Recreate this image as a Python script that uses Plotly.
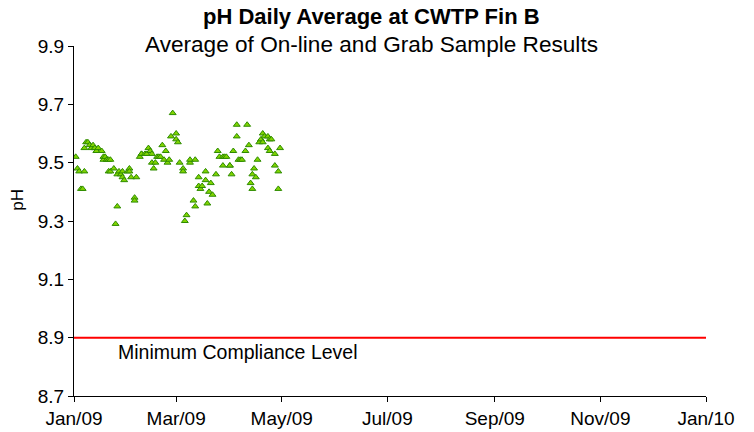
import plotly.graph_objects as go

# ---- data -------------------------------------------------------------
sample_dates = [
    "2009-01-02", "2009-01-03", "2009-01-04", "2009-01-05", "2009-01-06", "2009-01-07",
    "2009-01-07", "2009-01-08", "2009-01-09", "2009-01-10", "2009-01-11", "2009-01-12",
    "2009-01-13", "2009-01-13", "2009-01-14", "2009-01-14", "2009-01-15", "2009-01-17",
    "2009-01-18", "2009-01-18", "2009-01-19", "2009-01-20", "2009-01-20", "2009-01-21",
    "2009-01-21", "2009-01-22", "2009-01-22", "2009-01-24", "2009-01-25", "2009-01-26",
    "2009-01-26", "2009-01-27", "2009-01-28", "2009-01-29", "2009-01-29", "2009-01-30",
    "2009-02-01", "2009-02-02", "2009-02-02", "2009-02-03", "2009-02-05", "2009-02-05",
    "2009-02-06", "2009-02-08", "2009-02-09", "2009-02-09", "2009-02-11", "2009-02-12",
    "2009-02-13", "2009-02-14", "2009-02-15", "2009-02-15", "2009-02-16", "2009-02-17",
    "2009-02-18", "2009-02-19", "2009-02-20", "2009-02-21", "2009-02-22", "2009-02-23",
    "2009-02-24", "2009-02-25", "2009-02-26", "2009-02-27", "2009-03-01", "2009-03-01",
    "2009-03-02", "2009-03-03", "2009-03-05", "2009-03-05", "2009-03-06", "2009-03-07",
    "2009-03-09", "2009-03-09", "2009-03-11", "2009-03-12", "2009-03-12", "2009-03-14",
    "2009-03-14", "2009-03-15", "2009-03-16", "2009-03-18", "2009-03-18", "2009-03-19",
    "2009-03-20", "2009-03-21", "2009-03-22", "2009-03-24", "2009-03-25", "2009-03-26",
    "2009-03-28", "2009-03-28", "2009-03-29", "2009-03-30", "2009-04-01", "2009-04-01",
    "2009-04-02", "2009-04-03", "2009-04-05", "2009-04-05", "2009-04-06", "2009-04-07",
    "2009-04-08", "2009-04-10", "2009-04-11", "2009-04-12", "2009-04-13", "2009-04-14",
    "2009-04-14", "2009-04-15", "2009-04-16", "2009-04-17", "2009-04-18", "2009-04-19",
    "2009-04-20", "2009-04-20", "2009-04-21", "2009-04-23", "2009-04-23", "2009-04-24",
    "2009-04-24", "2009-04-25", "2009-04-27", "2009-04-27", "2009-04-29", "2009-04-29",
    "2009-04-30",
]
ph_values = [
    9.52, 9.48, 9.47, 9.41, 9.41, 9.47,
    9.55, 9.57, 9.57, 9.56, 9.55, 9.56,
    9.55, 9.55, 9.54, 9.54, 9.55, 9.54,
    9.51, 9.52, 9.52, 9.51, 9.51, 9.51,
    9.47, 9.47, 9.51, 9.48, 9.29, 9.35,
    9.46, 9.47, 9.46, 9.47, 9.45, 9.44,
    9.47, 9.48, 9.47, 9.45, 9.38, 9.37,
    9.45, 9.52, 9.53, 9.53, 9.53, 9.53,
    9.55, 9.54, 9.53, 9.50, 9.48, 9.50,
    9.52, 9.52, 9.52, 9.56, 9.51, 9.54,
    9.50, 9.51, 9.59, 9.67, 9.60, 9.58,
    9.57, 9.50, 9.48, 9.47, 9.30, 9.32,
    9.50, 9.51, 9.37, 9.35, 9.51, 9.45,
    9.42, 9.41, 9.42, 9.47, 9.44, 9.36,
    9.40, 9.43, 9.39, 9.46, 9.54, 9.52,
    9.52, 9.49, 9.52, 9.52, 9.49, 9.49,
    9.46, 9.54, 9.59, 9.63, 9.51, 9.51,
    9.51, 9.54, 9.63, 9.56, 9.43, 9.41,
    9.46, 9.48, 9.45, 9.51, 9.57, 9.58,
    9.57, 9.60, 9.59, 9.59, 9.55, 9.58,
    9.54, 9.58, 9.49, 9.53, 9.47, 9.41,
    9.55,
]

compliance_dates = ["2009-01-01", "2010-01-01"]
compliance_level = [8.9, 8.9]

x_tick_vals = ["2009-01-01", "2009-03-01", "2009-05-01", "2009-07-01",
               "2009-09-01", "2009-11-01", "2010-01-01"]
x_tick_text = ["Jan/09", "Mar/09", "May/09", "Jul/09", "Sep/09", "Nov/09", "Jan/10"]
y_tick_vals = [8.7, 8.9, 9.1, 9.3, 9.5, 9.7, 9.9]

FONT = "Liberation Sans, Arial, sans-serif"

fig = go.Figure()
fig.add_trace(go.Scatter(
    x=compliance_dates, y=compliance_level, mode="lines",
    line=dict(color="#ff0000", width=2), hoverinfo="skip", showlegend=False,
))
fig.add_trace(go.Scatter(
    x=sample_dates, y=ph_values, mode="markers",
    marker=dict(symbol="triangle-up", size=6, color="#80d400",
                line=dict(color="#2e8b00", width=1)),
    showlegend=False,
))

fig.update_layout(
    width=754, height=432,
    margin=dict(l=74, r=48, t=46, b=36),
    paper_bgcolor="white", plot_bgcolor="white",
    font=dict(family=FONT, color="black", size=19),
    xaxis=dict(
        type="date", range=["2009-01-01", "2010-01-01"], automargin=False,
        tickmode="array", tickvals=x_tick_vals, ticktext=x_tick_text,
        showline=True, linecolor="black", linewidth=1,
        ticks="outside", ticklen=5, tickcolor="black",
        showgrid=False, zeroline=False,
        tickfont=dict(size=19, family=FONT),
    ),
    yaxis=dict(
        range=[8.7, 9.9], tickmode="array", tickvals=y_tick_vals, automargin=False,
        tickformat=".1f",
        showline=True, linecolor="black", linewidth=1,
        ticks="outside", ticklen=5, tickcolor="black",
        showgrid=False, zeroline=False,
        tickfont=dict(size=19, family=FONT),
    ),
    annotations=[
        dict(text="<b>pH Daily Average at CWTP Fin B</b>", xref="paper", yref="paper",
             x=0.47, y=1.083, xanchor="center", yanchor="middle", showarrow=False,
             font=dict(size=22, family=FONT)),
        dict(text="Average of On-line and Grab Sample Results", xref="paper", yref="paper",
             x=0.47, y=1.003, xanchor="center", yanchor="middle", showarrow=False,
             font=dict(size=22.6, family=FONT)),
        dict(text="pH", xref="paper", yref="paper", x=-0.089, y=0.56,
             xanchor="center", yanchor="middle", textangle=-90, showarrow=False,
             font=dict(size=17, family=FONT)),
        dict(text="Minimum Compliance Level", xref="x", yref="y",
             x="2009-01-25", y=8.851, xanchor="left", yanchor="middle", showarrow=False,
             font=dict(size=19.5, family=FONT)),
    ],
)

# remove the browser's default 8px body margin so the figure fills the window
fig.write_html("out.html", config={"displayModeBar": False},
               post_script="document.body.style.margin='0';")
